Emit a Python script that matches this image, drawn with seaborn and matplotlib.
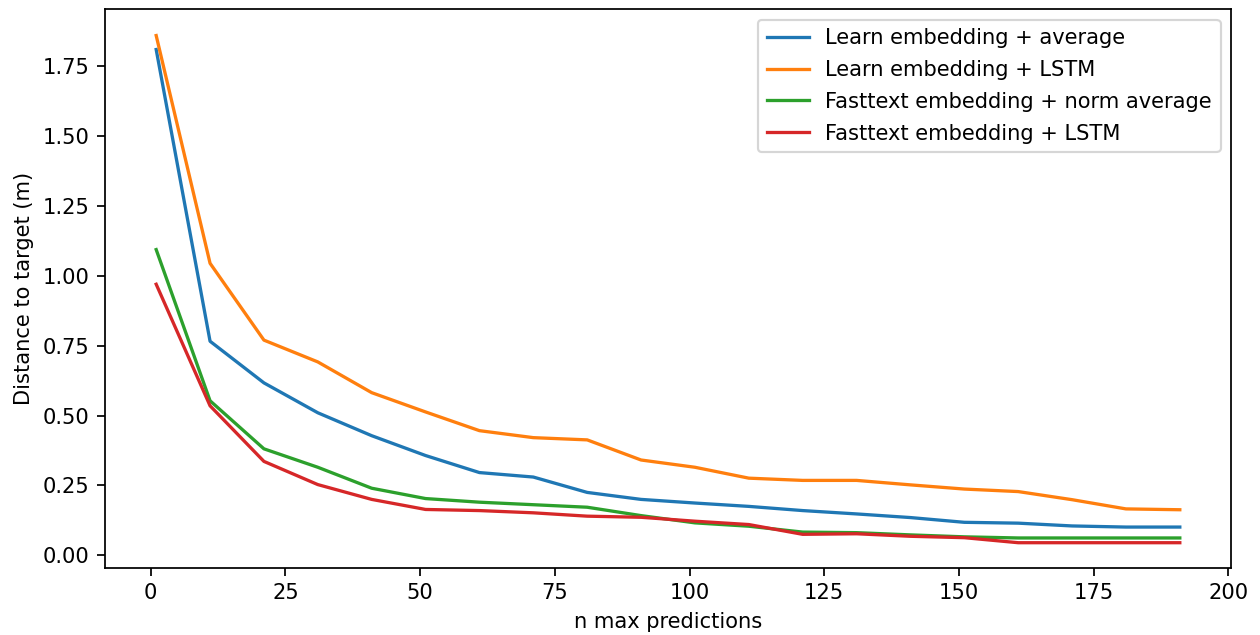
import numpy as np
import pandas as pd
import matplotlib
matplotlib.use("Agg")
import matplotlib.pyplot as plt
import seaborn as sns

n_max = [1, 11, 21, 31, 41, 51, 61, 71, 81, 91, 101, 111, 121, 131, 141, 151, 161, 171, 181, 191]

learn_avg = [1.81, 0.766, 0.617, 0.51, 0.428, 0.357, 0.296, 0.280, 0.225, 0.200, 0.187, 0.175, 0.160, 0.148, 0.135, 0.118, 0.115, 0.105, 0.101, 0.101]
learn_lstm = [1.86, 1.045, 0.77, 0.692, 0.582, 0.513, 0.446, 0.421, 0.413, 0.341, 0.315, 0.276, 0.268, 0.268, 0.252, 0.237, 0.228, 0.199, 0.166, 0.163]
fast_norm_avg = [1.094, 0.553, 0.381, 0.315, 0.240, 0.203, 0.190, 0.181, 0.172, 0.142, 0.116, 0.104, 0.083, 0.081, 0.073, 0.066, 0.062, 0.062, 0.062, 0.062]
fast_lstm = [0.97, 0.535, 0.336, 0.253, 0.200, 0.164, 0.160, 0.152, 0.140, 0.136, 0.122, 0.110, 0.075, 0.077, 0.068, 0.063, 0.045, 0.045, 0.045, 0.045]

series_names = ["Learn embedding + average", "Learn embedding + LSTM",
                "Fasttext embedding + norm average", "Fasttext embedding + LSTM"]
series_values = [learn_avg, learn_lstm, fast_norm_avg, fast_lstm]

rows = []
for name, vals in zip(series_names, series_values):
    for x, y in zip(n_max, vals):
        rows.append({"n max predictions": x, "Distance to target (m)": y, "model": name})
df = pd.DataFrame(rows)

plt.rcParams["font.size"] = 9.6

fig = plt.figure(figsize=(8, 635 / 157.5), dpi=157.5)
ax = fig.add_axes([105 / 1260, 1 - 568 / 635, (1231 - 105) / 1260, (568 - 9) / 635])
sns.lineplot(data=df, x="n max predictions", y="Distance to target (m)", hue="model",
             hue_order=series_names, palette=["#1f77b4", "#ff7f0e", "#2ca02c", "#d62728"],
             ax=ax, linewidth=1.5)
ax.legend(loc="upper right", title=None, labelspacing=0.57)
ax.set_xlim(-8.5, 200.5)
ax.set_yticks([0, 0.25, 0.5, 0.75, 1.0, 1.25, 1.5, 1.75])
ax.set_ylim(-0.0455, 1.955)
fig.savefig("out.png", dpi=157.5)
